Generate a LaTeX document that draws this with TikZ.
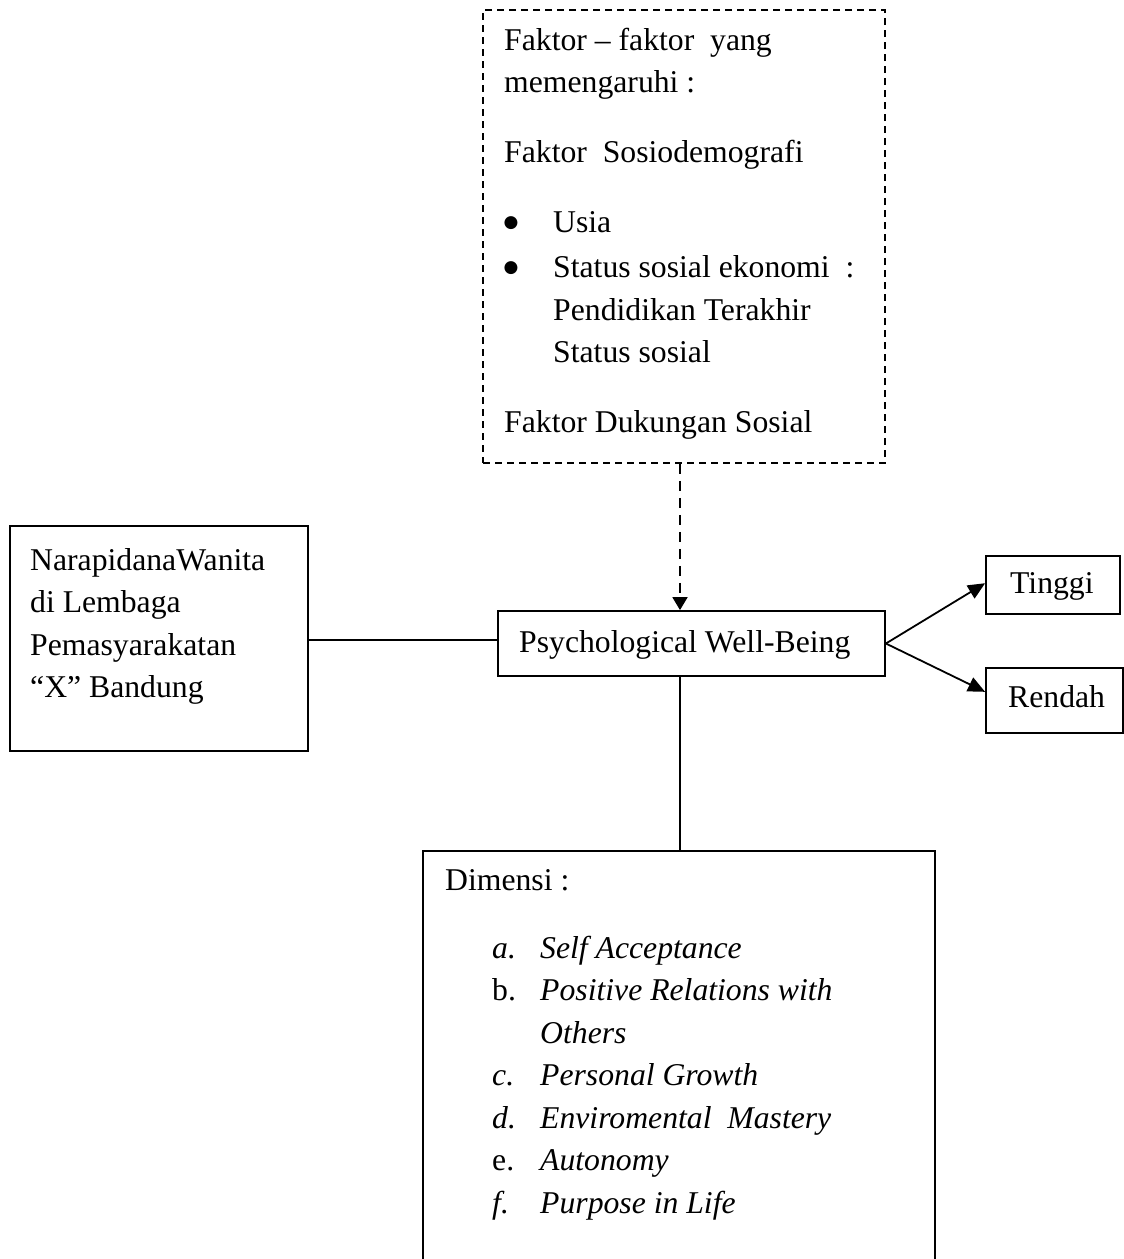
\documentclass[tikz,border=0pt]{standalone}
\usepackage{fontspec}
\setmainfont{Liberation Serif}
\newfontfamily\bulfont{DejaVu Sans}
\usetikzlibrary{arrows.meta,calc}
\begin{document}
\begin{tikzpicture}[x=1pt,y=-1pt,
  box/.style={draw,line width=1.8pt,rectangle,inner sep=0pt},
  dbox/.style={box,dash pattern=on 7pt off 5pt},
  txt/.style={anchor=base west,inner sep=0pt,font=\fontsize{31.7}{40}\selectfont},
  itx/.style={anchor=base west,inner sep=0pt,font=\fontsize{31.7}{40}\selectfont\itshape},
  bul/.style={anchor=center,inner sep=0pt,font=\bulfont\fontsize{17}{17}\selectfont},
  conn/.style={line width=1.8pt},
  tip/.style={-{Triangle[length=17pt,width=15pt]}}
]
\useasboundingbox (0,0) rectangle (1124,1259);

% boxes
\node[dbox,minimum width=402pt,minimum height=453pt] (top) at (684,236.5) {};
\node[box,minimum width=298pt,minimum height=225pt] (left) at (159,638.5) {};
\node[box,minimum width=387pt,minimum height=65pt] (pwb) at (691.5,643.5) {};
\node[box,minimum width=134pt,minimum height=58pt] (tinggi) at (1053,585) {};
\node[box,minimum width=137pt,minimum height=65pt] (rendah) at (1054.5,700.5) {};
\node[box,minimum width=512pt,minimum height=416pt] (dim) at (679,1059) {};

% top box text
\node[txt] (t1) at (504,50) {Faktor – faktor\ \ yang};
\node[txt] (t2) at (504,92) {memengaruhi :};
\node[txt] (t3) at (504,162) {Faktor\ \ Sosiodemografi};
\node[bul] (b1) at (511,223) {●};
\node[txt] (t4) at (553,232) {Usia};
\node[bul] (b2) at (511,268) {●};
\node[txt] (t5) at (553,277) {Status sosial ekonomi\ \ :};
\node[txt] (t6) at (553,320) {Pendidikan Terakhir};
\node[txt] (t7) at (553,362) {Status sosial};
\node[txt] (t8) at (504,432) {Faktor Dukungan Sosial};

% left box text
\node[txt] (l1) at (30,570) {NarapidanaWanita};
\node[txt] (l2) at (30,612) {di Lembaga};
\node[txt] (l3) at (30,655) {Pemasyarakatan};
\node[txt] (l4) at (30,697) {“X” Bandung};

% centre / right texts
\node[txt] (pwbt) at (519,652) {Psychological Well-Being};
\node[txt] (tt) at (1010,593) {Tinggi};
\node[txt] (rt) at (1008,707) {Rendah};

% dimensi text
\node[txt] (d0) at (445,890) {Dimensi :};
\node[itx] (da) at (492,958) {a.};
\node[itx] (dai) at (540,958) {Self Acceptance};
\node[txt] (db) at (492,1000.5) {b.};
\node[itx] (dbi) at (540,1000.5) {Positive Relations with};
\node[itx] (dbj) at (540,1043) {Others};
\node[itx] (dc) at (492,1085.5) {c.};
\node[itx] (dci) at (540,1085.5) {Personal Growth};
\node[itx] (dd) at (492,1128) {d.};
\node[itx] (ddi) at (540,1128) {Enviromental\ \ Mastery};
\node[txt] (de) at (492,1170.5) {e.};
\node[itx] (dei) at (540,1170.5) {Autonomy};
\node[itx] (df) at (492,1213) {f.};
\node[itx] (dfi) at (540,1213) {Purpose in Life};

% connectors
\coordinate (cx) at (680,0);
\coordinate (ly) at (0,640);
\draw[conn,dash pattern=on 10pt off 7pt,-{Triangle[length=13pt,width=15pt]}] (top.south -| cx) -- (pwb.north -| cx);
\draw[conn] (left.east |- ly) -- (pwb.west |- ly);
\draw[conn,tip] (pwb.east) -- ($(tinggi.north west)!0.47!(tinggi.south west)$);
\draw[conn,tip] (pwb.east) -- ($(rendah.north west)!0.37!(rendah.south west)$);
\draw[conn] (pwb.south -| cx) -- (dim.north -| cx);
\end{tikzpicture}
\end{document}
